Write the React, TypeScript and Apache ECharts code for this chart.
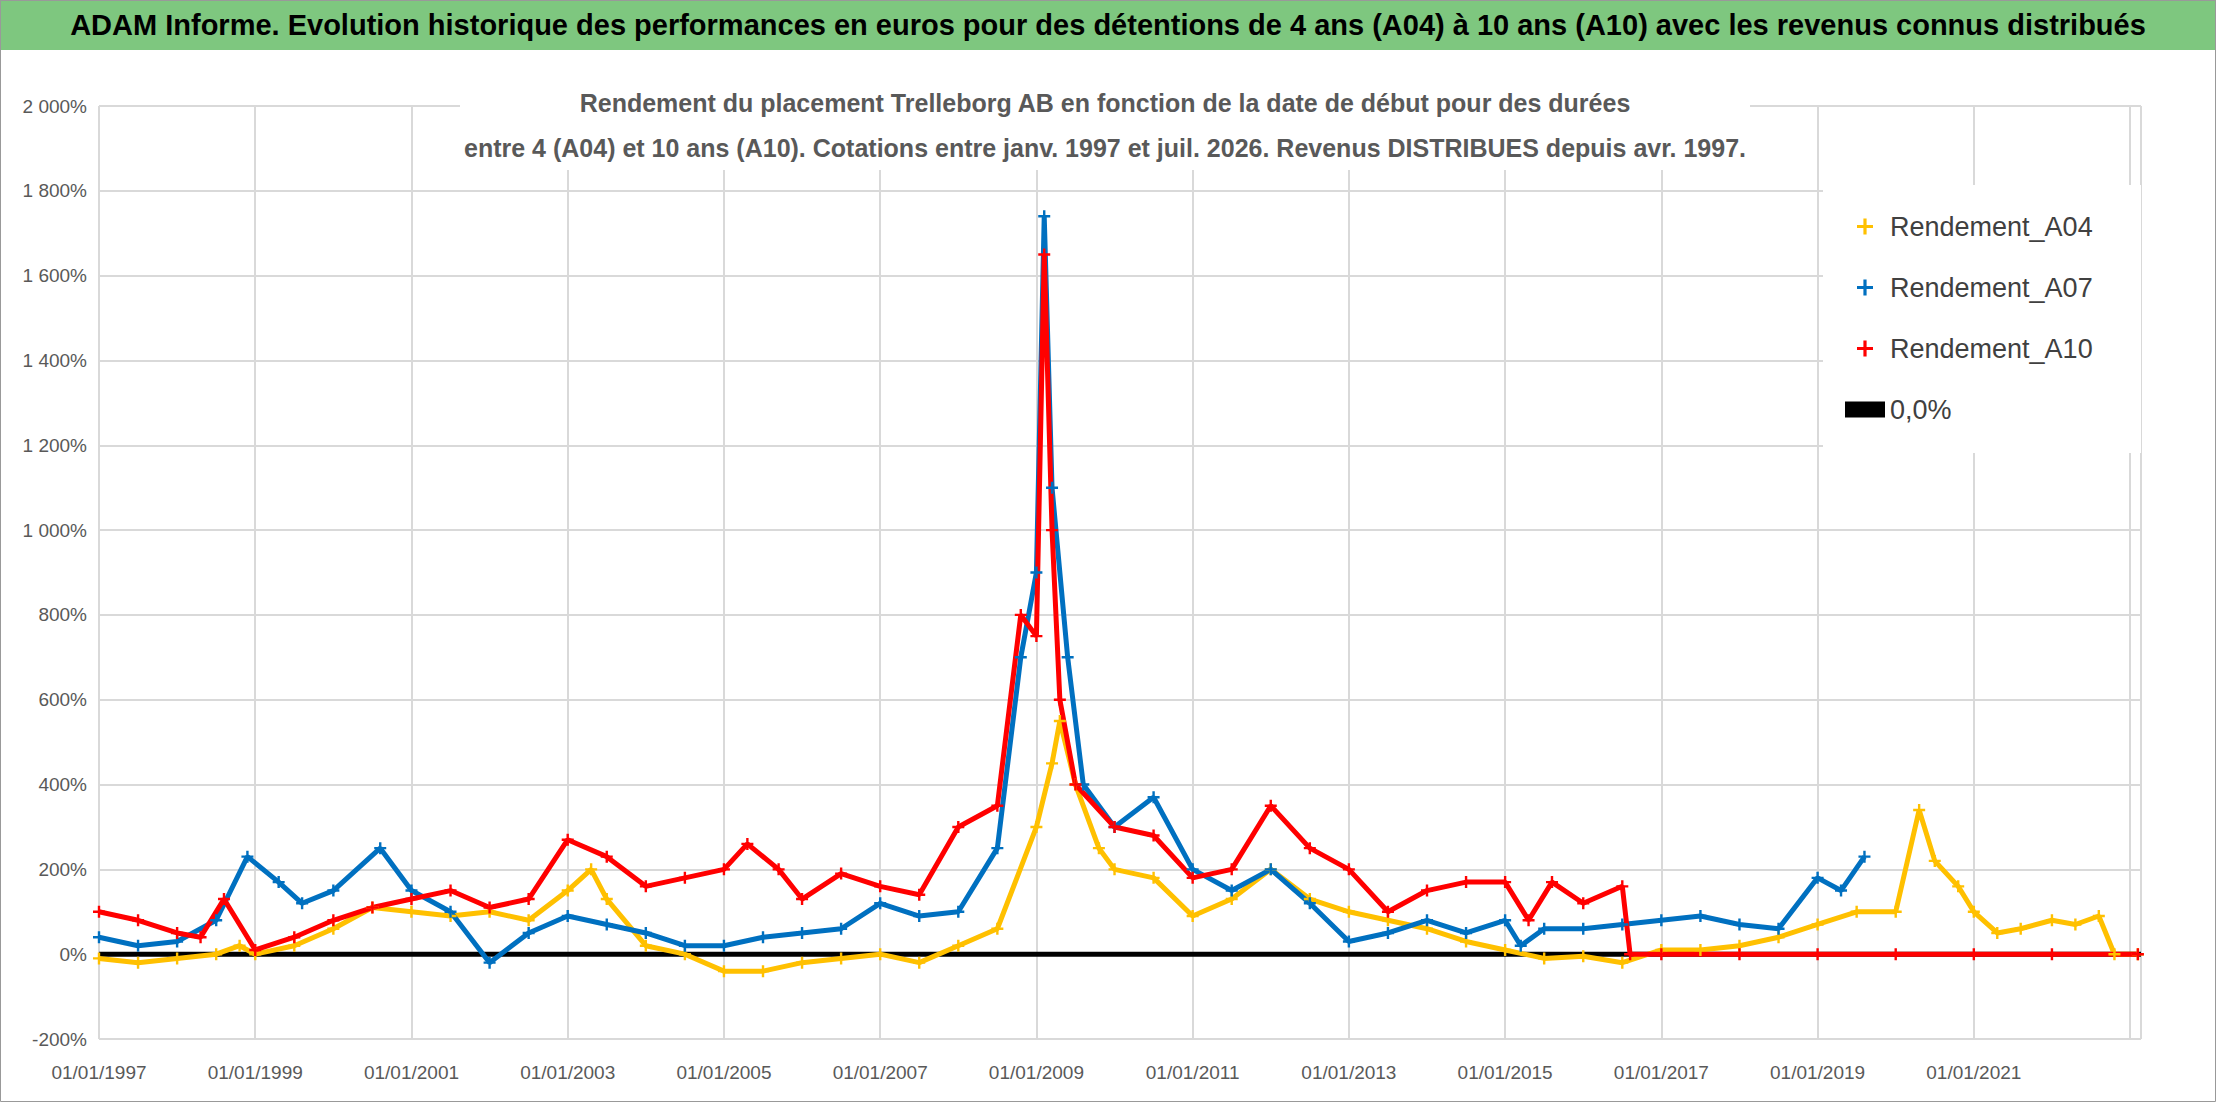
import { useEffect, useRef } from 'react'
import * as echarts from 'echarts'

// x = years since 01/01/1997, y = return in %
const yTicks = [-200, 0, 200, 400, 600, 800, 1000, 1200, 1400, 1600, 1800, 2000]

const a04: [number, number][] = [
  [0, -10], [0.5, -20], [1, -10], [1.5, 0], [1.8, 20], [2, 0], [2.5, 20], [3, 60], [3.5, 110],
  [4, 100], [4.5, 90], [5, 100], [5.5, 80], [6, 150], [6.3, 200], [6.5, 130], [7, 20], [7.5, 0],
  [8, -40], [8.5, -40], [9, -20], [9.5, -10], [10, 0], [10.5, -20], [11, 20], [11.5, 60],
  [12, 300], [12.2, 450], [12.3, 550], [12.5, 400], [12.8, 250], [13, 200], [13.5, 180],
  [14, 90], [14.5, 130], [15, 200], [15.5, 130], [16, 100], [16.5, 80], [17, 60], [17.5, 30],
  [18, 10], [18.5, -10], [19, -5], [19.5, -20], [20, 10], [20.5, 10], [21, 20], [21.5, 40],
  [22, 70], [22.5, 100], [23, 100], [23.3, 340], [23.5, 220], [23.8, 160], [24, 100],
  [24.3, 50], [24.6, 60], [25, 80], [25.3, 70], [25.6, 90], [25.8, 0], [26.1, 0],
]

const a07: [number, number][] = [
  [0, 40], [0.5, 20], [1, 30], [1.5, 80], [1.9, 230], [2.3, 170], [2.6, 120], [3, 150],
  [3.6, 250], [4, 150], [4.5, 100], [5, -20], [5.5, 50], [6, 90], [6.5, 70], [7, 50], [7.5, 20],
  [8, 20], [8.5, 40], [9, 50], [9.5, 60], [10, 120], [10.5, 90], [11, 100], [11.5, 250],
  [11.8, 700], [12, 900], [12.1, 1740], [12.2, 1100], [12.4, 700], [12.6, 400], [13, 300],
  [13.5, 370], [14, 200], [14.5, 150], [15, 200], [15.5, 120], [16, 30], [16.5, 50], [17, 80],
  [17.5, 50], [18, 80], [18.2, 20], [18.5, 60], [19, 60], [19.5, 70], [20, 80], [20.5, 90],
  [21, 70], [21.5, 60], [22, 180], [22.3, 150], [22.6, 230],
]

const a10: [number, number][] = [
  [0, 100], [0.5, 80], [1, 50], [1.3, 40], [1.6, 130], [2, 10], [2.5, 40], [3, 80], [3.5, 110],
  [4, 130], [4.5, 150], [5, 110], [5.5, 130], [6, 270], [6.5, 230], [7, 160], [7.5, 180],
  [8, 200], [8.3, 260], [8.7, 200], [9, 130], [9.5, 190], [10, 160], [10.5, 140], [11, 300],
  [11.5, 350], [11.8, 800], [12, 750], [12.1, 1650], [12.2, 1000], [12.3, 600], [12.5, 400],
  [13, 300], [13.5, 280], [14, 180], [14.5, 200], [15, 350], [15.5, 250], [16, 200],
  [16.5, 100], [17, 150], [17.5, 170], [18, 170], [18.3, 80], [18.6, 170], [19, 120],
  [19.5, 160], [19.6, 0], [20, 0], [21, 0], [22, 0], [23, 0], [24, 0], [25, 0], [26.1, 0],
]

const zeroLine: [number, number][] = [[0, 0], [26.14, 0]]

const plus = 'path://M4,0H6V4H10V6H6V10H4V6H0V4H4Z'
const font = '"Liberation Sans", sans-serif'

function scatter(name: string, color: string, data: [number, number][]) {
  return {
    name,
    type: 'line',
    data,
    symbol: plus,
    symbolSize: 12,
    showAllSymbol: true,
    itemStyle: { color },
    lineStyle: { color, width: 5 },
    z: 3,
  }
}

export default function App() {
  const ref = useRef<HTMLDivElement | null>(null)

  useEffect(() => {
    if (!ref.current) return undefined
    const chart = echarts.init(ref.current, null, { renderer: 'svg' })
    chart.setOption({
      animation: false,
      backgroundColor: '#fff',
      textStyle: { fontFamily: font },
      graphic: [
        { type: 'rect', shape: { x: 0, y: 0, width: 2216, height: 50 }, style: { fill: '#7ec77f' }, z: 0 },
        {
          type: 'text', x: 1108, y: 25, z: 1,
          style: {
            text: 'ADAM Informe. Evolution historique des performances en euros pour des détentions de 4 ans (A04) à 10 ans (A10) avec les revenus connus distribués',
            fill: '#000', font: `bold 29px ${font}`, align: 'center', verticalAlign: 'middle',
          },
        },
        { type: 'rect', shape: { x: 0.5, y: 0.5, width: 2215, height: 1101 }, style: { fill: 'none', stroke: '#999', lineWidth: 1 }, z: 0 },
        { type: 'rect', shape: { x: 460, y: 80, width: 1290, height: 90 }, style: { fill: '#fff' }, z: 5 },
        {
          type: 'text', x: 1105, y: 125, z: 6,
          style: {
            text: 'Rendement du placement Trelleborg AB en fonction de la date de début pour des durées\nentre 4 (A04) et 10 ans (A10). Cotations entre janv. 1997 et juil. 2026. Revenus DISTRIBUES depuis avr. 1997.',
            fill: '#595959', font: `bold 25px ${font}`, align: 'center', verticalAlign: 'middle', lineHeight: 45,
          },
        },
        { type: 'rect', shape: { x: 1823, y: 185, width: 318, height: 268 }, style: { fill: '#fff' }, z: 5 },
      ],
      grid: { left: 99, right: 75, top: 106, bottom: 63 },
      legend: {
        orient: 'vertical',
        left: 1840,
        top: 208,
        itemGap: 34,
        itemWidth: 40,
        itemHeight: 16,
        z: 6,
        textStyle: { fontSize: 27, color: '#404040', fontFamily: font },
        data: [
          { name: 'Rendement_A04', icon: plus, itemStyle: { color: '#ffc000' } },
          { name: 'Rendement_A07', icon: plus, itemStyle: { color: '#0070c0' } },
          { name: 'Rendement_A10', icon: plus, itemStyle: { color: '#ff0000' } },
          { name: '0,0%', icon: 'rect' },
        ],
      },
      xAxis: {
        type: 'value',
        min: 0,
        max: 26.14,
        interval: 2,
        axisLine: { show: false },
        axisTick: { show: false },
        splitLine: { lineStyle: { color: '#d9d9d9', width: 2 } },
        axisLabel: {
          fontSize: 19, color: '#595959', margin: 24,
          formatter: (v: number) => (v > 25 ? '' : `01/01/${1997 + Math.round(v)}`),
        },
      },
      yAxis: {
        type: 'value',
        min: yTicks[0],
        max: yTicks[yTicks.length - 1],
        interval: 200,
        axisLine: { show: false },
        axisTick: { show: false },
        splitLine: { lineStyle: { color: '#d9d9d9', width: 2 } },
        axisLabel: {
          fontSize: 19, color: '#595959', margin: 12,
          formatter: (v: number) => `${v.toLocaleString('fr-FR').replace(/\s/g, ' ')}%`,
        },
      },
      series: [
        {
          name: '0,0%', type: 'line', data: zeroLine, symbol: 'none',
          itemStyle: { color: '#000' }, lineStyle: { color: '#000', width: 5 }, z: 2,
        },
        scatter('Rendement_A04', '#ffc000', a04),
        scatter('Rendement_A07', '#0070c0', a07),
        scatter('Rendement_A10', '#ff0000', a10),
      ],
    })
    return () => chart.dispose()
  }, [])

  return <div ref={ref} style={{ position: 'fixed', left: 0, top: 0, width: 2216, height: 1102 }} />
}
